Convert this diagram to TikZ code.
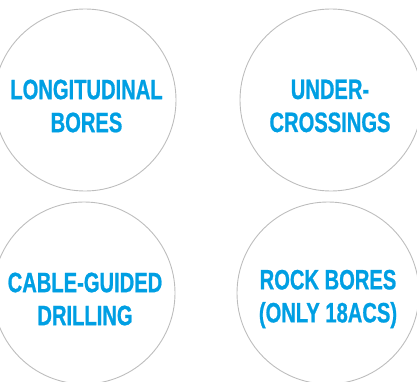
\documentclass[tikz,border=0pt]{standalone}
\usepackage{fontspec}
\newfontfamily\condfont[FakeStretch=0.72,FakeBold=0.8]{Liberation Sans Bold}
\definecolor{labelblue}{HTML}{009FE3}
\definecolor{ringgray}{HTML}{BDBDBD}
\tikzset{
  ring/.style={circle, draw=ringgray, line width=0.9pt, minimum size=182pt, inner sep=0pt},
  caption/.style={align=center, text=labelblue, inner sep=0pt,
    font=\condfont\fontsize{28}{33}\selectfont}
}
\begin{document}
\begin{tikzpicture}[x=1pt,y=1pt]
\useasboundingbox (0,0) rectangle (417,381);
\node[ring] (c1) at (85,281) {};
\node[ring] (c2) at (331,281) {};
\node[ring] (c3) at (84,88) {};
\node[ring] (c4) at (328,88) {};
\node[caption] (t1) at (86.5,275) {LONGITUDINAL\\BORES};
\node[caption] (t2) at (330,275) {UNDER-\\CROSSINGS};
\node[caption] (t3) at (85,82) {CABLE-GUIDED\\DRILLING};
\node[caption] (t4) at (328,82) {ROCK BORES\\(ONLY 18ACS)};
\end{tikzpicture}
\end{document}
